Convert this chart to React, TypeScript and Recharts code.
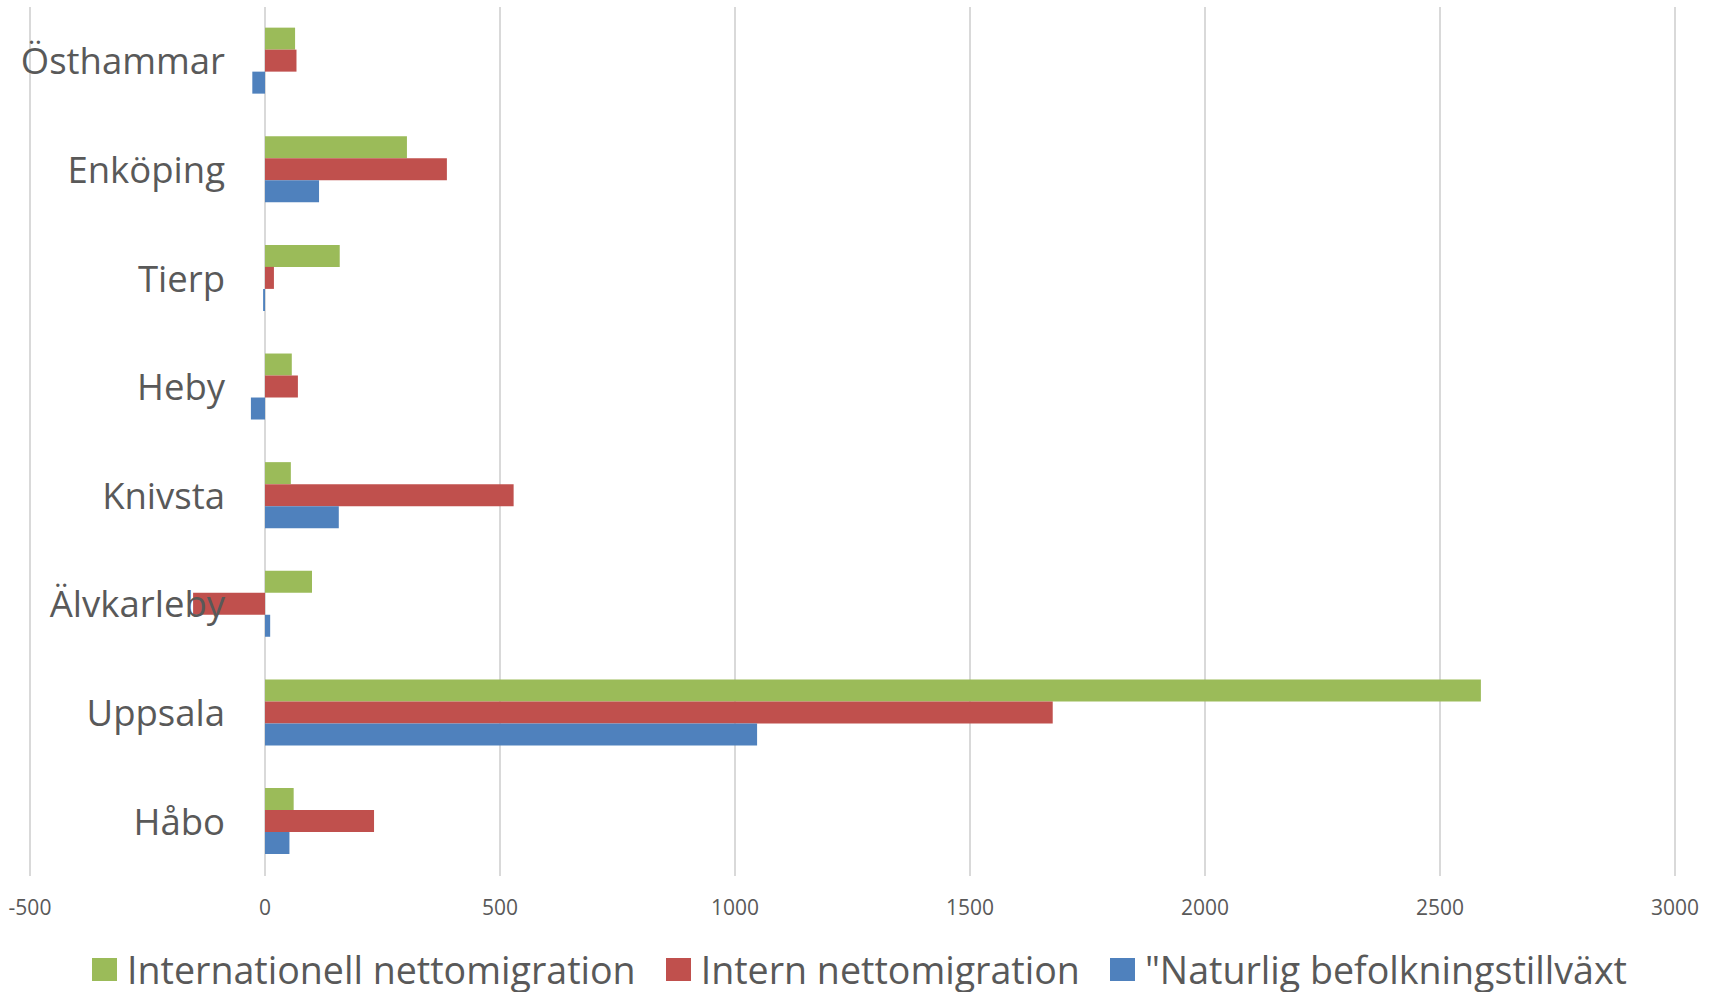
import { BarChart, Bar, XAxis, YAxis, CartesianGrid } from "recharts";

// kommuner, uppifrån och ned som i diagrammet
const kommuner = [
  "Östhammar",
  "Enköping",
  "Tierp",
  "Heby",
  "Knivsta",
  "Älvkarleby",
  "Uppsala",
  "Håbo",
];

const internationell = [64, 302, 159, 57, 55, 100, 2587, 61];
const intern = [67, 387, 19, 70, 529, -153, 1676, 232];
const naturlig = [-27, 115, -4, -30, 157, 11, 1047, 52];

const xTicks = [-500, 0, 500, 1000, 1500, 2000, 2500, 3000];

const SERIES = [
  { key: "internationell", name: "Internationell nettomigration", color: "#9BBB59" },
  { key: "intern", name: "Intern nettomigration", color: "#C0504D" },
  { key: "naturlig", name: "\"Naturlig befolkningstillväxt", color: "#4F81BD" },
];

const W = 1719;
const H = 992;
const MARGIN = { top: 7, right: 44, bottom: 66, left: 29 };
const Y_AXIS_W = 1;
const X_MIN = xTicks[0];
const X_MAX = xTicks[xTicks.length - 1];
const FONT = "'Open Sans', 'Noto Sans', sans-serif";
const TEXT = "#595959";

// kategorietiketterna sitter vid nollinjen, som i Excel
const plotLeft = MARGIN.left + Y_AXIS_W;
const zeroX =
  plotLeft + ((0 - X_MIN) / (X_MAX - X_MIN)) * (W - plotLeft - MARGIN.right);

const data = kommuner.map((name, i) => ({
  name,
  internationell: internationell[i],
  intern: intern[i],
  naturlig: naturlig[i],
}));

const CategoryTick = ({ y, payload }: any) => (
  <text
    x={zeroX - 40}
    y={y}
    dy={13}
    textAnchor="end"
    fill={TEXT}
    fontSize={36.5}
    fontFamily={FONT}
  >
    {payload.value}
  </text>
);

export default function App() {
  return (
    <div style={{ position: "absolute", left: 0, top: 0, width: W, height: H, background: "#fff" }}>
      <BarChart
        width={W}
        height={H}
        data={data}
        layout="vertical"
        margin={MARGIN}
        barCategoryGap="19%"
        barGap={0}
      >
        <CartesianGrid horizontal={false} stroke="#D9D9D9" strokeWidth={2} />
        <XAxis
          type="number"
          domain={[X_MIN, X_MAX]}
          ticks={xTicks}
          axisLine={false}
          tickLine={false}
          tickSize={0}
          tickMargin={24}
          height={50}
          tick={{ fontSize: 21, fill: TEXT, fontFamily: FONT }}
        />
        {SERIES.map((s) => (
          <Bar
            key={s.key}
            dataKey={s.key}
            name={s.name}
            fill={s.color}
            isAnimationActive={false}
          />
        ))}
        <YAxis
          type="category"
          dataKey="name"
          width={Y_AXIS_W}
          axisLine={false}
          tickLine={false}
          tick={CategoryTick}
          interval={0}
        />
      </BarChart>
      <div
        style={{
          position: "absolute",
          left: 0,
          top: 951,
          width: W,
          display: "flex",
          justifyContent: "center",
          alignItems: "center",
          fontFamily: FONT,
          fontSize: 37.6,
          lineHeight: "37px",
          color: TEXT,
          whiteSpace: "nowrap",
        }}
      >
        {SERIES.map((s, i) => (
          <div
            key={s.key}
            style={{ display: "flex", alignItems: "center", marginLeft: i === 0 ? 0 : 30 }}
          >
            <span
              style={{ width: 25, height: 23, background: s.color, marginRight: 10, display: "inline-block" }}
            />
            <span>{s.name}</span>
          </div>
        ))}
      </div>
    </div>
  );
}
